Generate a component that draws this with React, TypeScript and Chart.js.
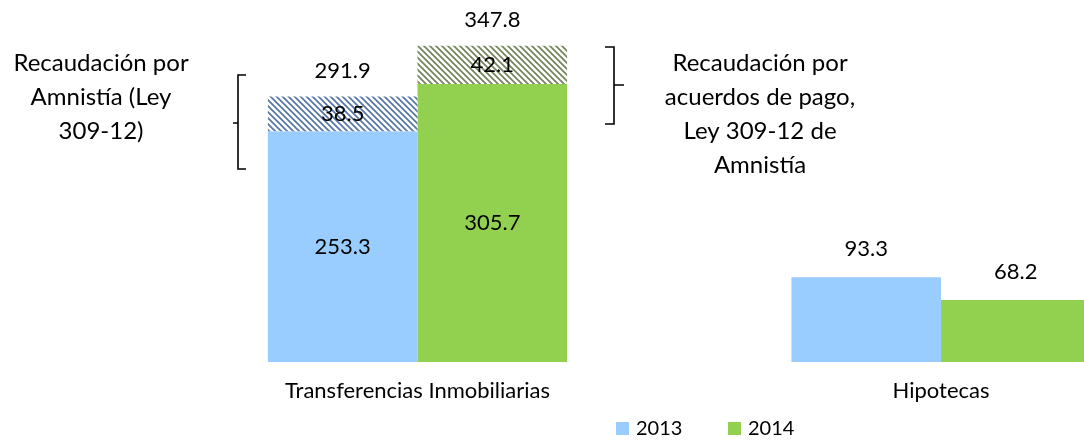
import React, { useEffect, useRef } from "react";
import { Chart, registerables } from "chart.js";

Chart.register(...registerables);

// ---- data ----
const categories = ["Transferencias Inmobiliarias", "Hipotecas"];
const seriesNames = ["2013", "2014"];
const base2013 = [253.3, 93.3];
const base2014 = [305.7, 68.2];
const amnesty2013: (number | null)[] = [38.5, null];
const amnesty2014: (number | null)[] = [42.1, null];
const total2013 = [291.9, 93.3];
const total2014 = [347.8, 68.2];
const leftNote = ["Recaudación por", "Amnistía (Ley", "309-12)"];
const rightNote = ["Recaudación por", "acuerdos de pago,", "Ley 309-12 de", "Amnistía"];
const yMax = 387;

// ---- style ----
const BLUE = "#99CCFF";
const GREEN = "#92D050";
const BLUE_STRIPE = "#5676A6";
const GREEN_STRIPE = "#74845A";
const FONT = "Lato";
const CANVAS_W = 1210;
const CANVAS_H = 441;

function makeHatch(bg: string, fg: string): CanvasPattern | string {
  const s = 6;
  const c = document.createElement("canvas");
  c.width = s;
  c.height = s;
  const x = c.getContext("2d");
  if (!x) return fg;
  x.fillStyle = bg;
  x.fillRect(0, 0, s, s);
  x.strokeStyle = fg;
  x.lineWidth = 1.7;
  x.beginPath();
  x.moveTo(-1, -1);
  x.lineTo(s + 1, s + 1);
  x.moveTo(-1, s - 1);
  x.lineTo(1, s + 1);
  x.moveTo(s - 1, -1);
  x.lineTo(s + 1, 1);
  x.stroke();
  return x.createPattern(c, "repeat") || fg;
}

const overlayPlugin = {
  id: "overlay",
  afterDraw(chart: any) {
    const ctx: CanvasRenderingContext2D = chart.ctx;
    ctx.save();
    ctx.fillStyle = "#000";
    ctx.textAlign = "center";
    ctx.textBaseline = "middle";
    ctx.font = `22px ${FONT}`;

    const groups = [
      { base: 0, amn: 1, amnVals: amnesty2013, totals: total2013, baseVals: base2013 },
      { base: 2, amn: 3, amnVals: amnesty2014, totals: total2014, baseVals: base2014 },
    ];
    for (const g of groups) {
      const baseMeta = chart.getDatasetMeta(g.base);
      const amnMeta = chart.getDatasetMeta(g.amn);
      categories.forEach((_, i) => {
        const be = baseMeta.data[i];
        const ae = amnMeta.data[i];
        const av = g.amnVals[i];
        if (av !== null && av !== undefined) {
          ctx.fillText(g.baseVals[i].toFixed(1), be.x, (be.y + be.base) / 2);
          ctx.fillText(av.toFixed(1), ae.x, (ae.y + ae.base) / 2);
          ctx.fillText(g.totals[i].toFixed(1), ae.x, ae.y - 26);
        } else {
          ctx.fillText(g.totals[i].toFixed(1), be.x, be.y - 28);
        }
      });
    }

    // annotations
    ctx.font = `24px ${FONT}`;
    ctx.textBaseline = "alphabetic";
    leftNote.forEach((t, k) => ctx.fillText(t, 101, 71 + k * 34));
    rightNote.forEach((t, k) => ctx.fillText(t, 760, 71 + k * 34));

    ctx.strokeStyle = "#000";
    ctx.lineWidth = 1.6;
    // left bracket
    ctx.beginPath();
    ctx.moveTo(246, 75);
    ctx.lineTo(238, 75);
    ctx.lineTo(238, 169);
    ctx.lineTo(246, 169);
    ctx.moveTo(238, 123);
    ctx.lineTo(233, 123);
    ctx.stroke();
    // right bracket
    ctx.beginPath();
    ctx.moveTo(605, 47);
    ctx.lineTo(614, 47);
    ctx.lineTo(614, 124);
    ctx.lineTo(605, 124);
    ctx.moveTo(614, 85);
    ctx.lineTo(624, 85);
    ctx.stroke();

    // legend
    const legendItems = [
      { color: BLUE, label: seriesNames[0], x: 616 },
      { color: GREEN, label: seriesNames[1], x: 728 },
    ];
    ctx.font = `20px ${FONT}`;
    ctx.textAlign = "left";
    ctx.textBaseline = "middle";
    for (const it of legendItems) {
      ctx.fillStyle = it.color;
      ctx.fillRect(it.x, 422, 13, 13);
      ctx.fillStyle = "#000";
      ctx.fillText(it.label, it.x + 20, 429);
    }
    ctx.restore();
  },
};

export default function App() {
  const ref = useRef<HTMLCanvasElement | null>(null);
  useEffect(() => {
    if (!ref.current) return;
    const chart = new Chart(ref.current, {
      type: "bar",
      data: {
        labels: categories,
        datasets: [
          { label: seriesNames[0], data: base2013, backgroundColor: BLUE, stack: "a", borderWidth: 0 },
          { label: seriesNames[0] + " amnistía", data: amnesty2013 as any, backgroundColor: makeHatch("#ffffff", BLUE_STRIPE) as any, stack: "a", borderWidth: 0 },
          { label: seriesNames[1], data: base2014, backgroundColor: GREEN, stack: "b", borderWidth: 0 },
          { label: seriesNames[1] + " amnistía", data: amnesty2014 as any, backgroundColor: makeHatch("#ffffff", GREEN_STRIPE) as any, stack: "b", borderWidth: 0 },
        ],
      },
      options: {
        responsive: false,
        animation: false,
        layout: { padding: { left: 155.75, right: CANVAS_W - 1202.75, top: 10, bottom: 19 } },
        datasets: { bar: { categoryPercentage: 0.5715, barPercentage: 1.0 } },
        plugins: { legend: { display: false }, tooltip: { enabled: false } },
        scales: {
          x: {
            stacked: true,
            grid: { display: false, drawTicks: false },
            border: { display: false },
            ticks: { color: "#000", font: { family: FONT, size: 22 }, padding: 16 },
            afterFit: (s: any) => {
              s.height = 60;
            },
          },
          y: {
            stacked: true,
            display: false,
            min: 0,
            max: yMax,
          },
        },
      },
      plugins: [overlayPlugin],
    });
    return () => chart.destroy();
  }, []);

  return (
    <div
      style={{
        position: "fixed",
        left: 0,
        top: 0,
        width: 1084,
        height: 441,
        overflow: "hidden",
        background: "#fff",
      }}
    >
      <canvas ref={ref} width={CANVAS_W} height={CANVAS_H} style={{ width: CANVAS_W, height: CANVAS_H, display: "block" }} />
    </div>
  );
}
